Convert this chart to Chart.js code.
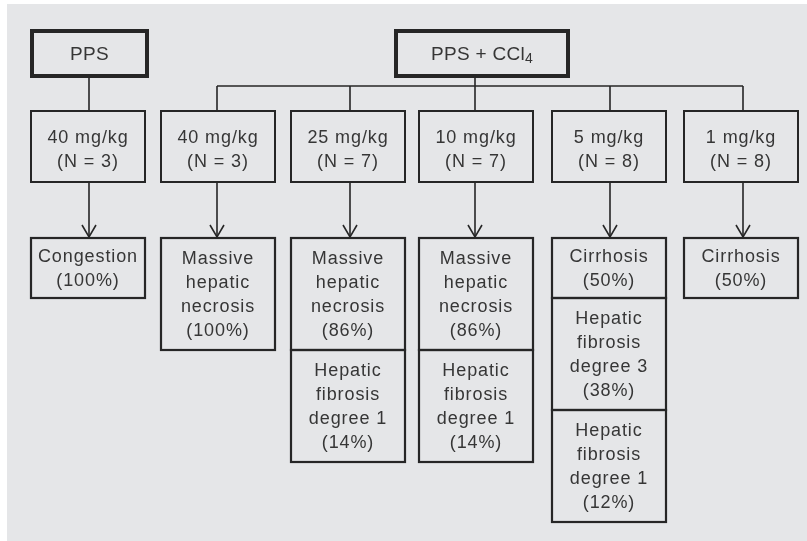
<!DOCTYPE html>
<html>
<head>
<meta charset="utf-8">
<script src="https://cdn.jsdelivr.net/npm/chart.js@4.4.0/dist/chart.umd.min.js"></script>
<style>
html,body{margin:0;padding:0;background:#fff;}
#wrap{width:807px;height:541px;}
</style>
</head>
<body>
<div id="wrap"><canvas id="c" width="807" height="541"></canvas></div>
<script>
// ---- data ----
const groups = ['PPS', 'PPS + CCl'];          // second group gets subscript 4
const groupSubscripts = ['', '4'];
const doses = ['40 mg/kg', '40 mg/kg', '25 mg/kg', '10 mg/kg', '5 mg/kg', '1 mg/kg'];
const groupSizes = [3, 3, 7, 7, 8, 8];
const doseGroup = [0, 1, 1, 1, 1, 1];
const outcomeLabels = [
  ['Congestion'],
  ['Massive hepatic necrosis'],
  ['Massive hepatic necrosis', 'Hepatic fibrosis degree 1'],
  ['Massive hepatic necrosis', 'Hepatic fibrosis degree 1'],
  ['Cirrhosis', 'Hepatic fibrosis degree 3', 'Hepatic fibrosis degree 1'],
  ['Cirrhosis']
];
const outcomePercents = [[100], [100], [86, 14], [86, 14], [50, 38, 12], [50]];

// ---- layout (data units = pixels of the 807x541 frame) ----
const colX = [88, 218, 348, 476, 609, 741];
const linkX = [89, 217, 350, 475, 610, 743];
const groupBoxX = [[32, 147], [396, 568]];
const groupBoxY = [31, 76];
const groupStemX = [89, 475];
const busY = 86;
const row2Y = [111, 182];
const row3Top = 238;
const boxW = 114;
const lineH = 24;

const FONT = '"Liberation Sans", Arial, sans-serif';
const INK = '#363636';
const EDGE = '#262626';

// connector datasets
const linkSets = [];
function seg(pts, w) {
  linkSets.push({type: 'scatter', data: pts.map(p => ({x: p[0], y: p[1]})), showLine: true,
    borderColor: EDGE, borderWidth: w, pointRadius: 0, fill: false, tension: 0});
}
// PPS stem
seg([[groupStemX[0], groupBoxY[1]], [groupStemX[0], row2Y[0]]], 1.6);
// CCl4 stem + bus
seg([[groupStemX[1], groupBoxY[1]], [groupStemX[1], busY]], 1.6);
const busCols = linkX.filter((x, i) => doseGroup[i] === 1);
seg([[Math.min(...busCols), busY], [Math.max(...busCols), busY]], 1.6);
busCols.forEach(x => seg([[x, busY], [x, row2Y[0]]], 1.6));
// arrows
linkX.forEach(x => {
  seg([[x, row2Y[1]], [x, row3Top]], 1.6);
  seg([[x - 7, row3Top - 13], [x, row3Top - 1], [x + 7, row3Top - 13]], 1.6);
});

function wrapWords(ctx, text, maxW) {
  const words = text.split(' ');
  const lines = [];
  let cur = '';
  words.forEach(w => {
    const t = cur ? cur + ' ' + w : w;
    if (cur && ctx.measureText(t).width > maxW) { lines.push(cur); cur = w; }
    else cur = t;
  });
  if (cur) lines.push(cur);
  return lines;
}

const diagram = {
  id: 'diagram',
  beforeDraw(chart) {
    const {ctx, scales: {x, y}} = chart;
    ctx.save();
    ctx.fillStyle = '#ffffff';
    ctx.fillRect(0, 0, chart.width, chart.height);
    ctx.fillStyle = '#e5e6e8';
    ctx.fillRect(x.getPixelForValue(7), y.getPixelForValue(4),
      x.getPixelForValue(807) - x.getPixelForValue(7), y.getPixelForValue(541) - y.getPixelForValue(4));
    ctx.restore();
  },
  afterDraw(chart) {
    const {ctx, scales: {x, y}} = chart;
    const X = v => x.getPixelForValue(v), Y = v => y.getPixelForValue(v);
    ctx.save();
    ctx.strokeStyle = EDGE;
    ctx.fillStyle = INK;
    ctx.textAlign = 'center';
    ctx.textBaseline = 'middle';

    const box = (x0, y0, x1, y1, w) => {
      ctx.lineWidth = w;
      ctx.strokeRect(X(x0), Y(y0), X(x1) - X(x0), Y(y1) - Y(y0));
    };
    const textBlock = (lines, cx, y0, y1, off) => {
      const mid = (Y(y0) + Y(y1)) / 2 + off;
      const start = mid - (lines.length - 1) * lineH / 2;
      lines.forEach((l, i) => ctx.fillText(l, X(cx), start + i * lineH));
    };

    // group boxes
    groups.forEach((g, i) => {
      const [x0, x1] = groupBoxX[i];
      box(x0, groupBoxY[0], x1, groupBoxY[1], 4);
      ctx.font = '19px ' + FONT;
      ctx.letterSpacing = '0.3px';
      const main = ctx.measureText(g).width;
      ctx.font = '14px ' + FONT;
      const sub = groupSubscripts[i] ? ctx.measureText(groupSubscripts[i]).width : 0;
      const cx = (X(x0) + X(x1)) / 2;
      const cy = (Y(groupBoxY[0]) + Y(groupBoxY[1])) / 2 + 1;
      const left = cx - (main + sub) / 2;
      ctx.textAlign = 'left';
      ctx.font = '19px ' + FONT;
      ctx.fillText(g, left, cy);
      if (sub) { ctx.font = '14px ' + FONT; ctx.fillText(groupSubscripts[i], left + main, cy + 5); }
      ctx.textAlign = 'center';
    });

    ctx.font = '18px ' + FONT;
    ctx.letterSpacing = '0.9px';
    // dose boxes
    doses.forEach((d, i) => {
      const x0 = colX[i] - boxW / 2, x1 = colX[i] + boxW / 2;
      box(x0, row2Y[0], x1, row2Y[1], 2);
      textBlock([d, '(N = ' + groupSizes[i] + ')'], colX[i], row2Y[0], row2Y[1], 3.5);
    });

    // outcome cells
    outcomeLabels.forEach((labels, i) => {
      const x0 = colX[i] - boxW / 2, x1 = colX[i] + boxW / 2;
      let top = row3Top;
      labels.forEach((lab, j) => {
        const lines = wrapWords(ctx, lab, 100).concat(['(' + outcomePercents[i][j] + '%)']);
        const h = lines.length * 26 + 8;
        box(x0, top, x1, top + h, 2.2);
        textBlock(lines, colX[i], top, top + h, 1.5);
        top += h;
      });
    });
    ctx.restore();
  }
};

new Chart(document.getElementById('c'), {
  type: 'scatter',
  data: {datasets: linkSets},
  options: {
    responsive: false,
    animation: false,
    events: [],
    layout: {padding: 0},
    plugins: {legend: {display: false}, tooltip: {enabled: false}},
    scales: {
      x: {type: 'linear', min: 0, max: 807, display: false},
      y: {type: 'linear', min: 0, max: 541, reverse: true, display: false}
    }
  },
  plugins: [diagram]
});
</script>
</body>
</html>
